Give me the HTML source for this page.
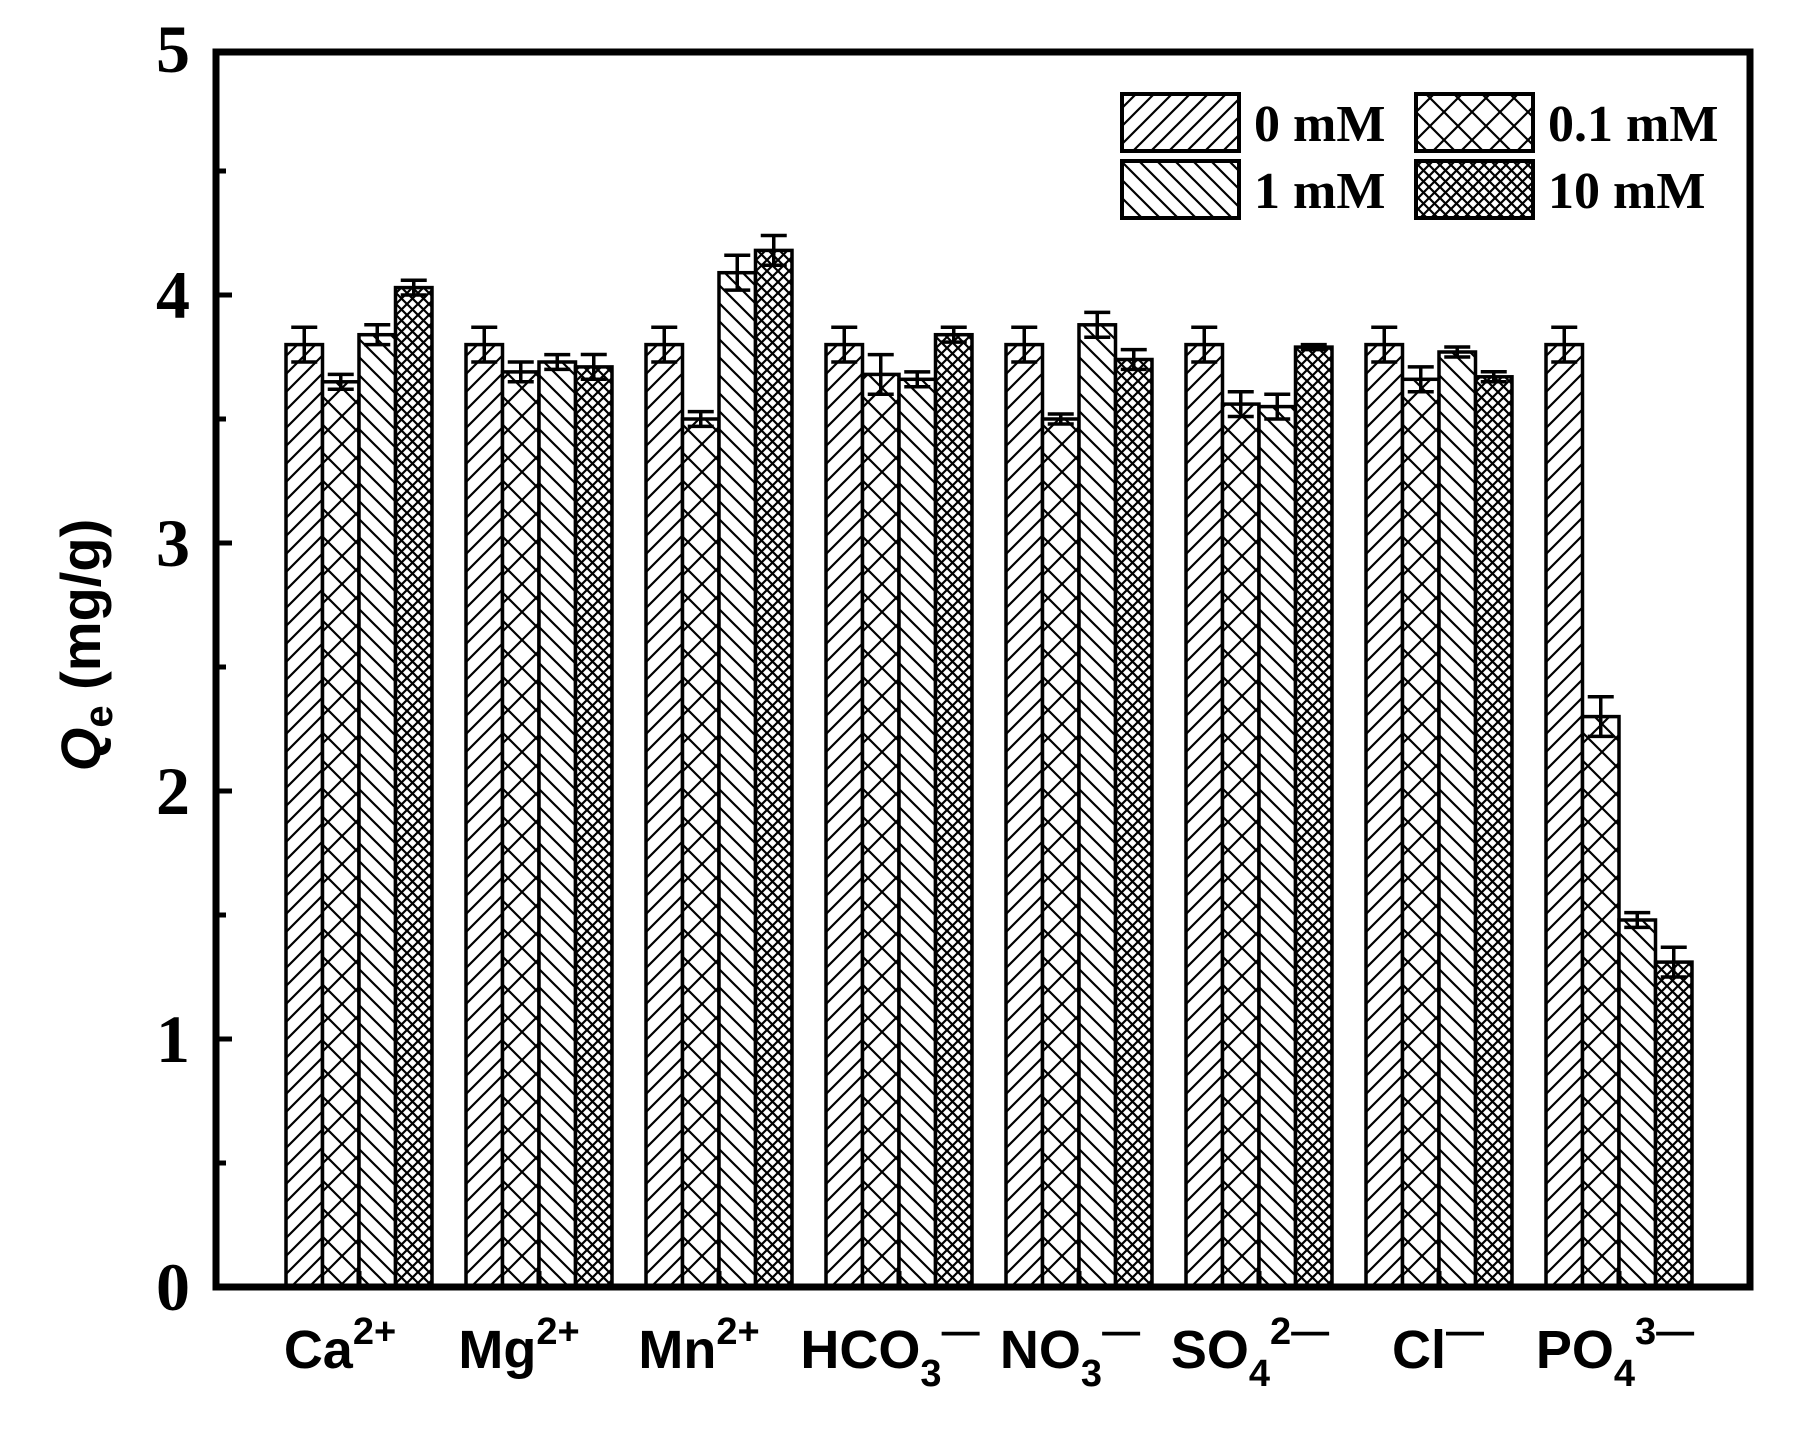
<!DOCTYPE html>
<html><head><style>body{margin:0;background:#fff}svg{display:block}</style></head><body>
<svg width="1799" height="1452" viewBox="0 0 1799 1452" xmlns="http://www.w3.org/2000/svg">
<defs>
<pattern id="p0" patternUnits="userSpaceOnUse" width="18" height="18"><rect width="18" height="18" fill="#fff"/><path d="M-4.5,4.5 L4.5,-4.5 M0,18 L18,0 M13.5,22.5 L22.5,13.5" stroke="#000" stroke-width="2.2"/></pattern>
<pattern id="p1" patternUnits="userSpaceOnUse" width="18" height="18"><rect width="18" height="18" fill="#fff"/><path d="M-4.5,13.5 L4.5,22.5 M0,0 L18,18 M13.5,-4.5 L22.5,4.5" stroke="#000" stroke-width="2.2"/></pattern>
<pattern id="p2" patternUnits="userSpaceOnUse" width="28" height="28"><rect width="28" height="28" fill="#fff"/><path d="M0,0 L28,28 M0,28 L28,0" stroke="#000" stroke-width="2.2"/></pattern>
<pattern id="p3" patternUnits="userSpaceOnUse" width="11" height="11"><rect width="11" height="11" fill="#fff"/><path d="M0,0 L11,11 M0,11 L11,0" stroke="#000" stroke-width="2.2"/></pattern>
</defs>
<g stroke="#000" stroke-width="3.5" fill="none" transform="translate(0,-4)">
<g transform="translate(286,0)">
<rect x="0" y="348.6" width="36.5" height="942.4" fill="url(#p0)"/><rect x="36.5" y="385.8" width="36.5" height="905.2" fill="url(#p2)"/><rect x="73" y="338.7" width="36.5" height="952.3" fill="url(#p1)"/><rect x="109.5" y="291.6" width="36.5" height="999.4" fill="url(#p3)"/>
<path d="M18.25,331.2V366M5.25,331.2h26M5.25,366h26 M54.75,378.4V393.2M41.75,378.4h26M41.75,393.2h26 M91.25,328.8V348.6M78.25,328.8h26M78.25,348.6h26 M127.75,284.2V299M114.75,284.2h26M114.75,299h26"/>
</g>
<g transform="translate(466,0)">
<rect x="0" y="348.6" width="36.5" height="942.4" fill="url(#p0)"/><rect x="36.5" y="375.9" width="36.5" height="915.1" fill="url(#p2)"/><rect x="73" y="366" width="36.5" height="925" fill="url(#p1)"/><rect x="109.5" y="370.9" width="36.5" height="920.1" fill="url(#p3)"/>
<path d="M18.25,331.2V366M5.25,331.2h26M5.25,366h26 M54.75,366V385.8M41.75,366h26M41.75,385.8h26 M91.25,358.6V373.4M78.25,358.6h26M78.25,373.4h26 M127.75,358.5V383.3M114.75,358.5h26M114.75,383.3h26"/>
</g>
<g transform="translate(646,0)">
<rect x="0" y="348.6" width="36.5" height="942.4" fill="url(#p0)"/><rect x="36.5" y="423" width="36.5" height="868" fill="url(#p2)"/><rect x="73" y="276.7" width="36.5" height="1014.3" fill="url(#p1)"/><rect x="109.5" y="254.4" width="36.5" height="1036.6" fill="url(#p3)"/>
<path d="M18.25,331.2V366M5.25,331.2h26M5.25,366h26 M54.75,415.6V430.4M41.75,415.6h26M41.75,430.4h26 M91.25,259.3V294.1M78.25,259.3h26M78.25,294.1h26 M127.75,239.5V269.3M114.75,239.5h26M114.75,269.3h26"/>
</g>
<g transform="translate(826,0)">
<rect x="0" y="348.6" width="36.5" height="942.4" fill="url(#p0)"/><rect x="36.5" y="378.4" width="36.5" height="912.6" fill="url(#p2)"/><rect x="73" y="383.3" width="36.5" height="907.7" fill="url(#p1)"/><rect x="109.5" y="338.7" width="36.5" height="952.3" fill="url(#p3)"/>
<path d="M18.25,331.2V366M5.25,331.2h26M5.25,366h26 M54.75,358.6V398.2M41.75,358.6h26M41.75,398.2h26 M91.25,375.9V390.7M78.25,375.9h26M78.25,390.7h26 M127.75,331.3V346.1M114.75,331.3h26M114.75,346.1h26"/>
</g>
<g transform="translate(1006,0)">
<rect x="0" y="348.6" width="36.5" height="942.4" fill="url(#p0)"/><rect x="36.5" y="423" width="36.5" height="868" fill="url(#p2)"/><rect x="73" y="328.8" width="36.5" height="962.2" fill="url(#p1)"/><rect x="109.5" y="363.5" width="36.5" height="927.5" fill="url(#p3)"/>
<path d="M18.25,331.2V366M5.25,331.2h26M5.25,366h26 M54.75,418V428M41.75,418h26M41.75,428h26 M91.25,316.4V341.2M78.25,316.4h26M78.25,341.2h26 M127.75,353.6V373.4M114.75,353.6h26M114.75,373.4h26"/>
</g>
<g transform="translate(1186,0)">
<rect x="0" y="348.6" width="36.5" height="942.4" fill="url(#p0)"/><rect x="36.5" y="408.1" width="36.5" height="882.9" fill="url(#p2)"/><rect x="73" y="410.6" width="36.5" height="880.4" fill="url(#p1)"/><rect x="109.5" y="351.1" width="36.5" height="939.9" fill="url(#p3)"/>
<path d="M18.25,331.2V366M5.25,331.2h26M5.25,366h26 M54.75,395.7V420.5M41.75,395.7h26M41.75,420.5h26 M91.25,398.2V423M78.25,398.2h26M78.25,423h26 M127.75,348.6V353.6M114.75,348.6h26M114.75,353.6h26"/>
</g>
<g transform="translate(1366,0)">
<rect x="0" y="348.6" width="36.5" height="942.4" fill="url(#p0)"/><rect x="36.5" y="383.3" width="36.5" height="907.7" fill="url(#p2)"/><rect x="73" y="356" width="36.5" height="935" fill="url(#p1)"/><rect x="109.5" y="380.8" width="36.5" height="910.2" fill="url(#p3)"/>
<path d="M18.25,331.2V366M5.25,331.2h26M5.25,366h26 M54.75,370.9V395.7M41.75,370.9h26M41.75,395.7h26 M91.25,351V361M78.25,351h26M78.25,361h26 M127.75,375.8V385.8M114.75,375.8h26M114.75,385.8h26"/>
</g>
<g transform="translate(1546,0)">
<rect x="0" y="348.6" width="36.5" height="942.4" fill="url(#p0)"/><rect x="36.5" y="720.6" width="36.5" height="570.4" fill="url(#p2)"/><rect x="73" y="924" width="36.5" height="367" fill="url(#p1)"/><rect x="109.5" y="966.1" width="36.5" height="324.9" fill="url(#p3)"/>
<path d="M18.25,331.2V366M5.25,331.2h26M5.25,366h26 M54.75,700.8V740.4M41.75,700.8h26M41.75,740.4h26 M91.25,916.6V931.4M78.25,916.6h26M78.25,931.4h26 M127.75,951.2V981M114.75,951.2h26M114.75,981h26"/>
</g>
</g>
<rect x="216" y="52" width="1534" height="1235" fill="none" stroke="#000" stroke-width="7"/>
<g stroke="#000" stroke-width="5" transform="translate(0,-4)">
<path d="M216,1291h16M216,1167h10M216,1043h16M216,919h10M216,795h16M216,671h10M216,547h16M216,423h10M216,299h16M216,175h10"/>
<path d="M359,1291v-16M539,1291v-16M719,1291v-16M899,1291v-16M1079,1291v-16M1259,1291v-16M1439,1291v-16M1619,1291v-16"/>
</g>
<g font-family="Liberation Serif, serif" font-weight="bold" font-size="68" text-anchor="end">
<text x="190" y="1310">0</text><text x="190" y="1062">1</text><text x="190" y="814">2</text><text x="190" y="566">3</text><text x="190" y="318">4</text><text x="190" y="72">5</text>
</g>
<text transform="translate(100,645) rotate(-90)" text-anchor="middle" font-family="Liberation Sans, sans-serif" font-weight="bold" font-size="56"><tspan font-style="italic">Q</tspan><tspan font-size="40" dy="12">e</tspan><tspan dy="-12"> (mg/g)</tspan></text>
<g font-family="Liberation Sans, sans-serif" font-weight="bold" font-size="54" text-anchor="middle">
<text x="340" y="1368">Ca<tspan font-size="38" dy="-24">2+</tspan></text>
<text x="519" y="1368">Mg<tspan font-size="38" dy="-24">2+</tspan></text>
<text x="699" y="1368">Mn<tspan font-size="38" dy="-24">2+</tspan></text>
<text x="890" y="1368">HCO<tspan font-size="38" dy="18">3</tspan><tspan font-size="38" dy="-42">—</tspan></text>
<text x="1070" y="1368">NO<tspan font-size="38" dy="18">3</tspan><tspan font-size="38" dy="-42">—</tspan></text>
<text x="1250" y="1368">SO<tspan font-size="38" dy="18">4</tspan><tspan font-size="38" dy="-42">2—</tspan></text>
<text x="1438" y="1368">Cl<tspan font-size="38" dy="-24">—</tspan></text>
<text x="1615" y="1368">PO<tspan font-size="38" dy="18">4</tspan><tspan font-size="38" dy="-42">3—</tspan></text>
</g>
<g transform="translate(-12,0)">
<g stroke="#000" stroke-width="4">
<rect x="1134" y="94" width="117" height="57" fill="url(#p0)"/>
<rect x="1134" y="161" width="117" height="57" fill="url(#p1)"/>
<rect x="1428" y="94" width="117" height="57" fill="url(#p2)"/>
<rect x="1428" y="161" width="117" height="57" fill="url(#p3)"/>
</g>
<g font-family="Liberation Serif, serif" font-weight="bold" font-size="52">
<text x="1266" y="141">0 mM</text>
<text x="1266" y="208">1 mM</text>
<text x="1560" y="141">0.1 mM</text>
<text x="1560" y="208">10 mM</text>
</g>
</g>
</svg>
</body></html>
